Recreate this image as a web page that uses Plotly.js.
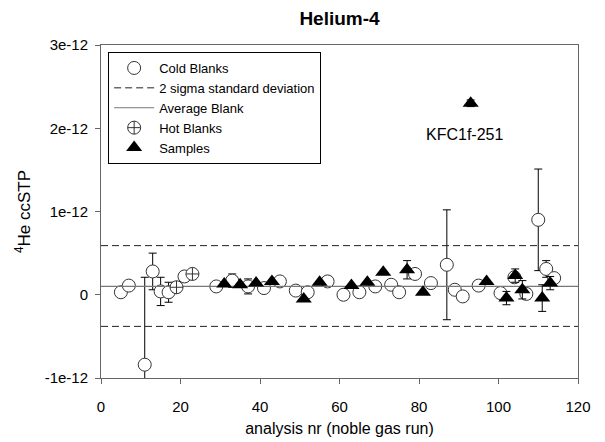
<!DOCTYPE html>
<html>
<head>
<meta charset="utf-8">
<script src="https://cdn.plot.ly/plotly-3.0.1.min.js"></script>
<style>html,body{margin:0;padding:0;background:#fff;}</style>
</head>
<body>
<div id="chart" style="width:605px;height:442px;"></div>
<script>
// Cold blanks
const coldX   = [5, 7, 11, 13, 15, 17, 21, 29, 33, 37, 41, 45, 49, 52, 57, 61, 65, 69, 73, 75, 79, 83, 87, 89, 91, 95, 100.5, 104, 107, 110, 112, 114];
const coldY   = [0.03e-12, 0.11e-12, -0.84e-12, 0.28e-12, 0.04e-12, 0.03e-12, 0.22e-12, 0.10e-12, 0.17e-12, 0.10e-12, 0.08e-12, 0.16e-12, 0.05e-12, 0.03e-12, 0.16e-12, 0.0, 0.03e-12, 0.10e-12, 0.12e-12, 0.03e-12, 0.25e-12, 0.14e-12, 0.36e-12, 0.06e-12, -0.02e-12, 0.11e-12, 0.02e-12, 0.21e-12, 0.01e-12, 0.90e-12, 0.31e-12, 0.20e-12];
const coldErr = [0, 0, 1.05e-12, 0.22e-12, 0.17e-12, 0.12e-12, 0, 0, 0.08e-12, 0.09e-12, 0, 0, 0, 0, 0, 0, 0, 0, 0, 0, 0, 0.04e-12, 0.66e-12, 0, 0, 0, 0, 0, 0.06e-12, 0.61e-12, 0.10e-12, 0];
// Hot blanks
const hotX   = [19, 23];
const hotY   = [0.09e-12, 0.25e-12];
const hotErr = [0.06e-12, 0.05e-12];
// Samples
const sampX   = [31, 35, 39, 43, 51, 55, 63, 67, 71, 77, 81, 93, 97, 102, 104.2, 106, 111, 113];
const sampY   = [0.13e-12, 0.12e-12, 0.14e-12, 0.16e-12, -0.05e-12, 0.15e-12, 0.11e-12, 0.15e-12, 0.27e-12, 0.30e-12, 0.03e-12, 2.30e-12, 0.16e-12, -0.04e-12, 0.23e-12, 0.06e-12, -0.04e-12, 0.14e-12];
const sampErr = [0, 0, 0, 0, 0, 0, 0, 0, 0, 0.11e-12, 0, 0.04e-12, 0, 0.08e-12, 0.08e-12, 0.11e-12, 0.16e-12, 0.08e-12];
// Reference lines
const lineX = [0, 120];
const avgBlank = 0.10e-12;
const sigmaUpper = 0.59e-12;
const sigmaLower = -0.38e-12;
// Labels
const outlierLabel = 'KFC1f-251';
const outlierLabelX = 91.5;
const outlierLabelY = 1.92e-12;
const yTickVals = [-1e-12, 0, 1e-12, 2e-12, 3e-12];
const yTickText = ['-1e-12', '0', '1e-12', '2e-12', '3e-12'];
const xTickVals = [0, 20, 40, 60, 80, 100, 120];

const FONT = 'Liberation Sans, Arial, sans-serif';
const errStyle = {type: 'data', visible: true, color: '#000', thickness: 1, width: 4};

const traces = [
  {
    x: coldX, y: coldY, name: 'Cold Blanks', type: 'scatter', mode: 'markers',
    marker: {symbol: 'circle', size: 13, color: '#fff', line: {color: '#333', width: 1}},
    error_y: Object.assign({array: coldErr}, errStyle)
  },
  {
    x: lineX, y: [sigmaUpper, sigmaUpper], name: '2 sigma standard deviation', type: 'scatter', mode: 'lines',
    line: {color: '#222', width: 1, dash: '7px,4px'}, legendgroup: 'sig'
  },
  {
    x: lineX, y: [sigmaLower, sigmaLower], name: '2 sigma standard deviation', type: 'scatter', mode: 'lines',
    line: {color: '#222', width: 1, dash: '7px,4px'}, legendgroup: 'sig', showlegend: false
  },
  {
    x: lineX, y: [avgBlank, avgBlank], name: 'Average Blank', type: 'scatter', mode: 'lines',
    line: {color: '#777', width: 1.2}
  },
  {
    x: hotX, y: hotY, name: 'Hot Blanks', type: 'scatter', mode: 'markers',
    marker: {symbol: 'circle-cross', size: 13, color: '#fff', line: {color: '#333', width: 1}},
    error_y: Object.assign({array: hotErr}, errStyle)
  },
  {
    x: sampX, y: sampY, name: 'Samples', type: 'scatter', mode: 'markers',
    marker: {symbol: 'triangle-up', size: 14, color: '#000', line: {color: '#000', width: 0}},
    error_y: Object.assign({array: sampErr}, errStyle)
  }
];

const layout = {
  width: 605, height: 442,
  margin: {l: 101, r: 27, t: 45, b: 64},
  paper_bgcolor: '#fff', plot_bgcolor: '#fff',
  font: {family: FONT, size: 13, color: '#000'},
  title: {text: '<b>Helium-4</b>', font: {family: FONT, size: 19, color: '#000'},
          x: 0.5, xref: 'paper', y: 0.958, yref: 'container', yanchor: 'middle'},
  showlegend: true,
  legend: {x: 0.015, y: 0.979, xanchor: 'left', yanchor: 'top',
           bordercolor: '#000', borderwidth: 1, bgcolor: '#fff',
           font: {family: FONT, size: 13, color: '#000'}, tracegroupgap: 0,
           itemwidth: 40},
  xaxis: {
    range: [0, 120], tickvals: xTickVals, ticks: 'outside', ticklen: 5, tickcolor: '#666',
    showline: true, linecolor: '#666', linewidth: 1, mirror: true, showgrid: false, zeroline: false,
    tickfont: {family: FONT, size: 15, color: '#000'}, ticklabelstandoff: 10,
    title: {text: 'analysis nr (noble gas run)', font: {family: FONT, size: 16, color: '#000'}, standoff: 8}
  },
  yaxis: {
    range: [-1e-12, 3e-12], tickvals: yTickVals, ticktext: yTickText, ticks: 'outside', ticklen: 5, tickcolor: '#666',
    showline: true, linecolor: '#666', linewidth: 1, mirror: true, showgrid: false, zeroline: false,
    tickfont: {family: FONT, size: 15, color: '#000'}, ticklabelstandoff: 4,
    title: {text: '<sup>4</sup>He ccSTP', font: {family: FONT, size: 17, color: '#000'}, standoff: 9}
  },
  annotations: [{
    x: outlierLabelX, y: outlierLabelY, xref: 'x', yref: 'y', text: outlierLabel, showarrow: false,
    font: {family: FONT, size: 16, color: '#000'}
  }]
};

Plotly.newPlot('chart', traces, layout, {displayModeBar: false, staticPlot: true});
</script>
</body>
</html>
